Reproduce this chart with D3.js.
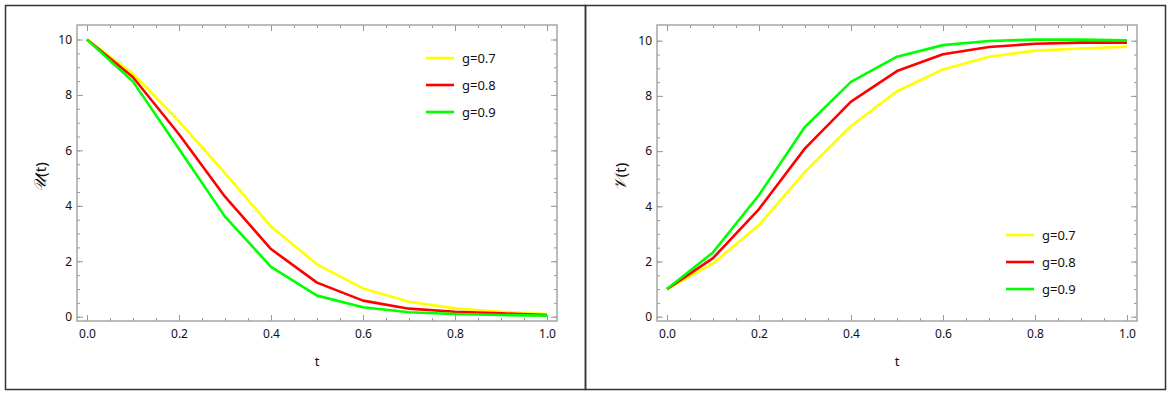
<!DOCTYPE html>
<html>
<head>
<meta charset="utf-8">
<script src="https://cdn.jsdelivr.net/npm/d3@7"></script>
<style>
  body { margin: 0; background: #fff; }
  svg { display: block; }
</style>
</head>
<body>
<div id="container"></div>
<script>
let w = 1170;
let h = 395;

// values, t = 0, 0.1, ..., 1.0
let tVals = [0, 0.1, 0.2, 0.3, 0.4, 0.5, 0.6, 0.7, 0.8, 0.9, 1.0];
let u07 = [10, 8.76, 7.05, 5.18, 3.25, 1.89, 1.02, 0.54, 0.30, 0.18, 0.10];
let u08 = [10, 8.64, 6.58, 4.33, 2.44, 1.23, 0.58, 0.29, 0.18, 0.12, 0.06];
let u09 = [10, 8.48, 6.05, 3.61, 1.80, 0.76, 0.34, 0.16, 0.10, 0.06, 0.04];
let v07 = [1, 1.93, 3.32, 5.25, 6.91, 8.17, 8.96, 9.42, 9.64, 9.72, 9.78];
let v08 = [1, 2.12, 3.90, 6.10, 7.79, 8.90, 9.51, 9.77, 9.89, 9.93, 9.93];
let v09 = [1, 2.33, 4.41, 6.88, 8.51, 9.42, 9.84, 9.99, 10.04, 10.04, 10.01];

let legendLabels = ["g=0.7", "g=0.8", "g=0.9"];
let colors = ["#ffff00", "#ff0000", "#00ff00"];

let xTicks = [0, 0.2, 0.4, 0.6, 0.8, 1.0];
let yTicks = [0, 2, 4, 6, 8, 10];
let xMinor = d3.range(0, 1.0001, 0.05);
let yMinor = d3.range(0, 10.0001, 0.5);

let svg = d3.select("#container")
  .append("svg")
  .attr("width", w)
  .attr("height", h);

let fontFam = "'Noto Sans', 'Open Sans', sans-serif";

function drawPanel(opts) {
  let g = svg.append("g").attr("transform", "translate(" + opts.ox + ",0)");

  // outer box
  g.append("rect")
    .attr("x", 5.5).attr("y", 5.5)
    .attr("width", 580).attr("height", 384)
    .attr("fill", "none")
    .attr("stroke", "#333")
    .attr("stroke-width", 1.5);

  let xScale = d3.scaleLinear().domain([0, 1]).range([87, 547]);
  let yScale = d3.scaleLinear().domain([0, 10]).range([316.7, opts.yTop]);

  let fx0 = 77, fx1 = 557, fy0 = 25, fy1 = 321;

  // ticks on all four sides, pointing inwards
  let tickCol = "#999";
  function styleAxis(sel) {
    sel.select(".domain").remove();
    sel.selectAll("line").attr("stroke", tickCol);
  }

  // bottom
  g.append("g").attr("transform", "translate(0," + fy1 + ")")
    .call(d3.axisBottom(xScale).tickValues(xMinor).tickSize(-3).tickFormat(""))
    .call(styleAxis);
  g.append("g").attr("transform", "translate(0," + fy1 + ")")
    .call(d3.axisBottom(xScale).tickValues(xTicks).tickSize(-6).tickPadding(8).tickFormat(d3.format(".1f")))
    .call(styleAxis)
    .selectAll("text")
    .attr("font-family", fontFam).attr("font-size", 12).attr("fill", "#111");
  // top
  g.append("g").attr("transform", "translate(0," + fy0 + ")")
    .call(d3.axisTop(xScale).tickValues(xMinor).tickSize(-3).tickFormat(""))
    .call(styleAxis);
  g.append("g").attr("transform", "translate(0," + fy0 + ")")
    .call(d3.axisTop(xScale).tickValues(xTicks).tickSize(-6).tickFormat(""))
    .call(styleAxis);
  // left
  g.append("g").attr("transform", "translate(" + fx0 + ",0)")
    .call(d3.axisLeft(yScale).tickValues(yMinor).tickSize(-3).tickFormat(""))
    .call(styleAxis);
  g.append("g").attr("transform", "translate(" + fx0 + ",0)")
    .call(d3.axisLeft(yScale).tickValues(yTicks).tickSize(-6).tickPadding(5).tickFormat(d3.format("d")))
    .call(styleAxis)
    .selectAll("text")
    .attr("font-family", fontFam).attr("font-size", 12).attr("fill", "#111");
  // right
  g.append("g").attr("transform", "translate(" + fx1 + ",0)")
    .call(d3.axisRight(yScale).tickValues(yMinor).tickSize(-3).tickFormat(""))
    .call(styleAxis);
  g.append("g").attr("transform", "translate(" + fx1 + ",0)")
    .call(d3.axisRight(yScale).tickValues(yTicks).tickSize(-6).tickFormat(""))
    .call(styleAxis);

  // frame
  g.append("rect")
    .attr("x", fx0).attr("y", fy0)
    .attr("width", fx1 - fx0).attr("height", fy1 - fy0)
    .attr("fill", "none")
    .attr("stroke", "#a6a6a6")
    .attr("stroke-width", 1.5);

  // lines
  let line = d3.line()
    .x((d, i) => xScale(tVals[i]))
    .y(d => yScale(d));

  opts.series.forEach(function (s, i) {
    g.append("path")
      .datum(s)
      .attr("fill", "none")
      .attr("stroke", colors[i])
      .attr("stroke-width", 2.6)
      .attr("stroke-linejoin", "round")
      .attr("d", line);
  });

  // axis labels
  g.append("text")
    .attr("x", (xScale(0) + xScale(1)) / 2)
    .attr("y", 366)
    .attr("text-anchor", "middle")
    .attr("font-family", fontFam)
    .attr("font-size", 13)
    .attr("fill", "#111")
    .text("t");

  let yl = g.append("text")
    .attr("transform", "translate(46,177) rotate(-90)")
    .attr("text-anchor", "middle")
    .attr("font-family", fontFam)
    .attr("font-size", 15)
    .attr("fill", "#111");
  yl.append("tspan")
    .attr("font-family", "'DejaVu Serif', serif")
    .attr("font-style", "italic")
    .attr("font-size", 17)
    .text(opts.yName);
  yl.append("tspan").text("(t)");

  // legend
  legendLabels.forEach(function (lab, i) {
    let ly = opts.legY + i * 27;
    g.append("line")
      .attr("x1", opts.legX).attr("x2", opts.legX + 28)
      .attr("y1", ly).attr("y2", ly)
      .attr("stroke", colors[i])
      .attr("stroke-width", 2.6);
    g.append("text")
      .attr("x", opts.legX + 36)
      .attr("y", ly + 4.5)
      .attr("font-family", fontFam)
      .attr("font-size", 13)
      .attr("fill", "#111")
      .text(lab);
  });
}

drawPanel({ ox: 0, yTop: 39.5, series: [u07, u08, u09], yName: "𝒰", legX: 426, legY: 58 });
drawPanel({ ox: 580, yTop: 40.7, series: [v07, v08, v09], yName: "𝒱", legX: 426, legY: 235 });
</script>
</body>
</html>
